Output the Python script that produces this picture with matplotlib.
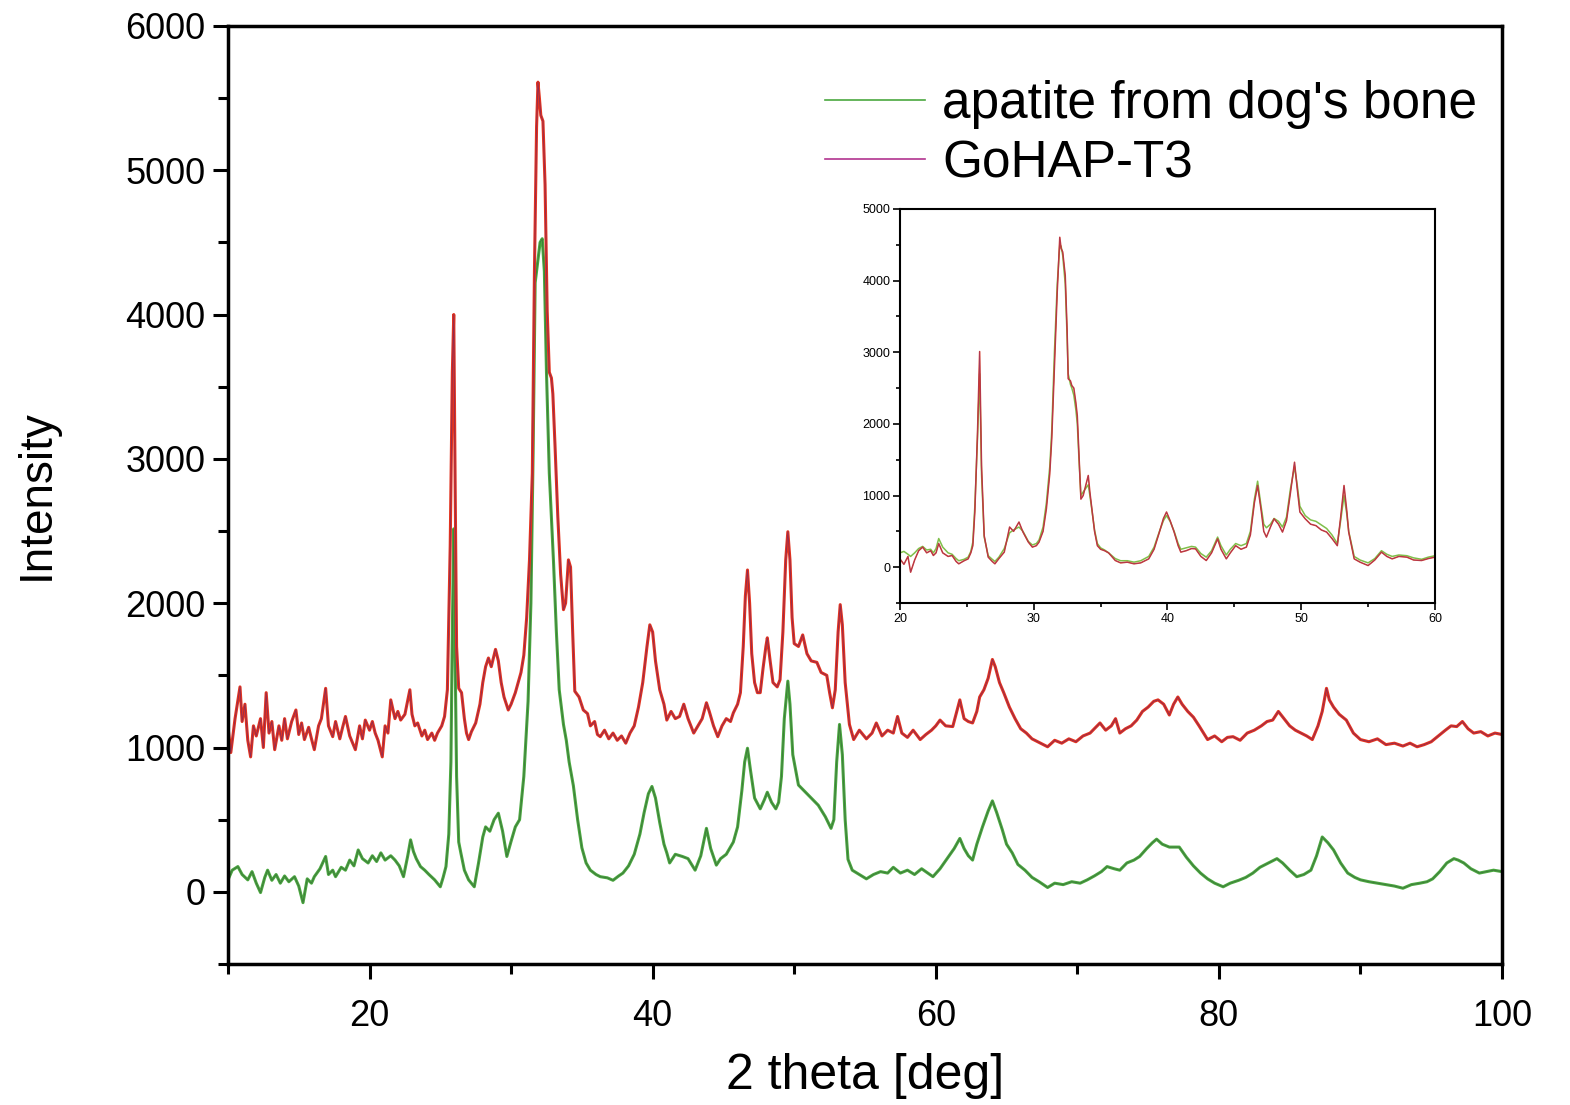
import matplotlib
matplotlib.use("Agg")
import matplotlib.pyplot as plt
from matplotlib.lines import Line2D
from matplotlib.ticker import MultipleLocator

plt.rcParams['font.family'] = ['Liberation Sans', 'DejaVu Sans']

# GoHAP-T3, main panel (2 theta, intensity)
gohap_x = [10.0, 10.2, 10.5, 10.85, 11.0, 11.2, 11.4, 11.6, 11.8, 12.0, 12.3, 12.5, 12.7, 12.9, 13.1, 13.3,
           13.6, 13.8, 14.0, 14.2, 14.5, 14.8, 15.0, 15.2, 15.4, 15.7, 15.9, 16.1, 16.4, 16.6, 16.9, 17.1,
           17.4, 17.6, 17.9, 18.1, 18.3, 18.6, 19.0, 19.3, 19.5, 19.7, 20.0, 20.2, 20.4, 20.6, 20.9, 21.1,
           21.3, 21.5, 21.8, 22.0, 22.2, 22.5, 22.85, 23.0, 23.2, 23.4, 23.7, 23.9, 24.1, 24.4, 24.6, 24.8,
           25.1, 25.3, 25.5, 25.7, 25.85, 25.95, 26.05, 26.15, 26.3, 26.5, 26.7, 26.85, 27.0, 27.2, 27.5, 27.8,
           28.0, 28.2, 28.4, 28.6, 28.9, 29.1, 29.3, 29.5, 29.8, 30.0, 30.3, 30.5, 30.7, 30.9, 31.1, 31.3,
           31.5, 31.65, 31.8, 31.9, 32.0, 32.1, 32.25, 32.4, 32.55, 32.7, 32.85, 32.95, 33.1, 33.3, 33.5, 33.7,
           33.85, 34.05, 34.2, 34.35, 34.5, 34.8, 35.1, 35.4, 35.6, 35.9, 36.1, 36.3, 36.6, 36.9, 37.2, 37.5,
           37.8, 38.1, 38.4, 38.7, 39.0, 39.3, 39.6, 39.8, 40.0, 40.2, 40.5, 40.8, 41.0, 41.3, 41.6, 41.9,
           42.2, 42.5, 42.9, 43.2, 43.5, 43.8, 44.0, 44.3, 44.6, 44.9, 45.2, 45.5, 45.7, 46.0, 46.2, 46.4,
           46.55, 46.7, 46.85, 47.0, 47.2, 47.4, 47.6, 47.8, 48.0, 48.1, 48.3, 48.5, 48.8, 49.0, 49.2, 49.4,
           49.55, 49.7, 49.85, 50.0, 50.3, 50.6, 50.9, 51.2, 51.6, 51.9, 52.3, 52.5, 52.7, 52.9, 53.1, 53.25,
           53.4, 53.6, 53.9, 54.2, 54.6, 55.1, 55.5, 55.8, 56.2, 56.6, 57.0, 57.3, 57.6, 58.0, 58.4, 58.9,
           59.3, 59.7, 60.0, 60.3, 60.7, 61.2, 61.7, 62.0, 62.3, 62.6, 62.9, 63.1, 63.4, 63.7, 64.0, 64.2,
           64.5, 64.8, 65.2, 65.6, 66.0, 66.4, 66.8, 67.4, 67.9, 68.4, 68.9, 69.4, 69.9, 70.4, 70.9, 71.3,
           71.6, 72.0, 72.4, 72.7, 73.0, 73.4, 73.8, 74.2, 74.6, 75.0, 75.4, 75.7, 76.1, 76.5, 76.8, 77.1,
           77.4, 77.8, 78.2, 78.6, 79.2, 79.7, 80.2, 80.6, 81.0, 81.5, 82.0, 82.5, 83.0, 83.4, 83.8, 84.2,
           84.6, 85.0, 85.4, 85.8, 86.2, 86.6, 87.0, 87.3, 87.6, 87.8, 88.1, 88.5, 89.0, 89.5, 90.0, 90.6,
           91.2, 91.8, 92.4, 93.0, 93.5, 94.0, 94.5, 95.0, 95.5, 96.0, 96.4, 96.8, 97.2, 97.6, 98.0, 98.5,
           99.0, 99.5, 100.0]
gohap_y = [1145, 965, 1200, 1420, 1180, 1300, 1050, 935, 1150, 1080, 1200, 1000, 1380, 1100, 1180, 985,
           1150, 1050, 1200, 1060, 1180, 1260, 1090, 1170, 1055, 1140, 1060, 985, 1150, 1200, 1410, 1150,
           1075, 1180, 1060, 1140, 1215, 1080, 985, 1150, 1060, 1190, 1120, 1180, 1100, 1050, 935, 1150,
           1100, 1330, 1200, 1250, 1190, 1230, 1400, 1230, 1150, 1170, 1080, 1120, 1055, 1100, 1050, 1100,
           1150, 1215, 1400, 2400, 3600, 4000, 2800, 1700, 1410, 1380, 1200, 1100, 1055, 1110, 1170, 1300,
           1450, 1560, 1620, 1560, 1680, 1600, 1450, 1350, 1260, 1300, 1380, 1450, 1520, 1640, 1900, 2300,
           2900, 4300, 5300, 5610, 5500, 5380, 5340, 4900, 4025, 3600, 3560, 3450, 3100, 2600, 2200, 1955,
           2000, 2300, 2250, 1800, 1390, 1350, 1260, 1235, 1150, 1180, 1090, 1075, 1120, 1060, 1100, 1050,
           1080, 1030, 1100, 1150, 1280, 1450, 1700, 1850, 1800, 1600, 1400, 1300, 1190, 1250, 1200, 1215,
           1300, 1200, 1100, 1150, 1200, 1310, 1250, 1150, 1075, 1150, 1200, 1180, 1240, 1300, 1380, 1700,
           2050, 2230, 2000, 1650, 1450, 1380, 1380, 1550, 1700, 1760, 1600, 1450, 1420, 1470, 1800, 2300,
           2495, 2300, 1900, 1720, 1700, 1780, 1650, 1600, 1590, 1520, 1500, 1380, 1275, 1400, 1800, 1990,
           1850, 1450, 1160, 1055, 1120, 1060, 1100, 1170, 1080, 1120, 1100, 1215, 1100, 1070, 1120, 1055,
           1090, 1120, 1150, 1190, 1150, 1145, 1330, 1200, 1180, 1170, 1250, 1350, 1400, 1480, 1610, 1560,
           1450, 1380, 1280, 1200, 1130, 1100, 1060, 1030, 1005, 1050, 1030, 1060, 1040, 1080, 1100, 1140,
           1170, 1120, 1150, 1200, 1100, 1130, 1150, 1190, 1250, 1280, 1320, 1330, 1300, 1225, 1300, 1350,
           1300, 1250, 1210, 1150, 1055, 1080, 1040, 1070, 1075, 1050, 1100, 1120, 1150, 1180, 1190, 1250,
           1200, 1150, 1120, 1100, 1080, 1055, 1150, 1250, 1410, 1330, 1280, 1230, 1190, 1100, 1055, 1040,
           1060, 1020, 1030, 1010, 1030, 1005, 1020, 1040, 1080, 1120, 1150, 1145, 1180, 1130, 1100, 1110,
           1080, 1100, 1090]

# apatite from dog's bone, main panel
bone_x = [10.0, 10.3, 10.7, 11.0, 11.4, 11.7, 12.0, 12.3, 12.6, 12.8, 13.1, 13.4, 13.7, 14.0, 14.3, 14.7,
          15.0, 15.3, 15.6, 15.9, 16.1, 16.5, 16.9, 17.1, 17.4, 17.6, 18.0, 18.3, 18.6, 18.9, 19.2, 19.5,
          19.9, 20.2, 20.5, 20.8, 21.1, 21.5, 21.8, 22.1, 22.4, 22.7, 22.9, 23.1, 23.3, 23.6, 23.9, 24.2,
          24.6, 25.0, 25.2, 25.4, 25.6, 25.75, 25.85, 25.95, 26.05, 26.15, 26.3, 26.45, 26.7, 27.0, 27.4, 27.7,
          28.0, 28.2, 28.5, 28.8, 29.1, 29.4, 29.7, 30.0, 30.3, 30.6, 30.9, 31.2, 31.4, 31.55, 31.7, 31.9,
          32.05, 32.2, 32.35, 32.5, 32.7, 33.0, 33.2, 33.4, 33.7, 33.9, 34.1, 34.4, 34.7, 35.0, 35.3, 35.6,
          36.0, 36.3, 36.8, 37.2, 37.6, 37.9, 38.3, 38.7, 39.1, 39.4, 39.7, 39.95, 40.2, 40.5, 40.8, 41.0,
          41.2, 41.6, 42.1, 42.5, 43.0, 43.4, 43.8, 44.1, 44.5, 44.8, 45.2, 45.7, 46.0, 46.3, 46.5, 46.7,
          46.9, 47.2, 47.6, 47.9, 48.1, 48.4, 48.7, 48.9, 49.1, 49.3, 49.55, 49.7, 49.9, 50.3, 50.7, 51.2,
          51.7, 52.2, 52.6, 52.8, 53.0, 53.2, 53.4, 53.6, 53.8, 54.1, 54.6, 55.1, 55.6, 56.1, 56.6, 57.0,
          57.5, 58.0, 58.5, 59.0, 59.8, 60.3, 60.8, 61.3, 61.7, 62.0, 62.3, 62.6, 62.9, 63.3, 63.7, 64.0,
          64.3, 64.7, 65.0, 65.4, 65.8, 66.3, 66.8, 67.3, 67.9, 68.4, 69.0, 69.6, 70.2, 70.7, 71.2, 71.7,
          72.1, 72.6, 73.0, 73.5, 74.0, 74.4, 74.9, 75.3, 75.6, 76.0, 76.5, 77.2, 77.7, 78.2, 78.7, 79.2,
          79.7, 80.3, 80.8, 81.4, 81.9, 82.4, 82.9, 83.5, 84.1, 84.5, 85.0, 85.5, 86.0, 86.5, 86.9, 87.3,
          87.7, 88.1, 88.6, 89.1, 89.6, 90.0, 90.6, 91.2, 91.8, 92.4, 93.0, 93.6, 94.2, 94.7, 95.1, 95.6,
          96.1, 96.6, 96.9, 97.3, 97.8, 98.4, 98.9, 99.4, 100.0]
bone_y = [83, 150, 175, 120, 83, 140, 60, -5, 100, 150, 80, 120, 60, 110, 70, 105,
          40, -75, 90, 60, 105, 160, 245, 120, 150, 105, 170, 150, 220, 180, 290, 230,
          200, 250, 210, 270, 220, 250, 220, 180, 105, 250, 360, 280, 230, 175, 150, 120,
          83, 35, 100, 175, 400, 900, 1800, 2515, 1600, 800, 345, 270, 150, 83, 35, 200,
          380, 450, 420, 500, 545, 420, 245, 350, 450, 500, 800, 1320, 2000, 3000, 4220, 4380,
          4500, 4525, 4300, 3600, 2900, 2280, 1800, 1400, 1160, 1050, 900, 735, 500, 305, 200, 150,
          120, 105, 97, 80, 110, 130, 180, 260, 400, 550, 680, 730, 650, 480, 330, 270,
          200, 260, 245, 230, 150, 250, 440, 300, 185, 230, 260, 345, 450, 700, 900, 995,
          850, 650, 575, 640, 690, 620, 575, 620, 800, 1200, 1460, 1300, 950, 740, 700, 650,
          600, 520, 440, 500, 900, 1160, 950, 500, 225, 150, 120, 90, 120, 140, 130, 170,
          130, 150, 120, 160, 105, 160, 230, 300, 370, 300, 250, 220, 330, 450, 560, 630,
          550, 430, 330, 270, 190, 150, 100, 70, 30, 60, 50, 70, 60, 83, 110, 140,
          175, 160, 150, 200, 220, 245, 300, 340, 365, 330, 310, 310, 240, 180, 130, 90,
          60, 35, 60, 80, 100, 130, 170, 200, 230, 200, 150, 105, 120, 150, 250, 380,
          340, 290, 200, 130, 100, 83, 70, 60, 50, 40, 25, 50, 60, 70, 90, 140,
          200, 230, 220, 200, 160, 130, 140, 150, 140]

# inset, 20-60 deg
inset_x = [20.0, 20.3, 20.6, 20.8, 21.1, 21.4, 21.7, 22.0, 22.3, 22.5, 22.7, 22.9, 23.2, 23.6, 23.9, 24.2,
           24.4, 24.8, 25.1, 25.3, 25.45, 25.6, 25.8, 25.96, 26.1, 26.3, 26.6, 26.9, 27.1, 27.4, 27.8, 28.2,
           28.5, 28.9, 29.2, 29.6, 29.9, 30.2, 30.4, 30.7, 30.95, 31.2, 31.35, 31.55, 31.76, 31.95, 32.05, 32.17,
           32.36, 32.5, 32.58, 32.75, 32.85, 33.0, 33.15, 33.26, 33.4, 33.53, 33.7, 33.89, 34.08, 34.2, 34.35, 34.55,
           34.76, 35.0, 35.3, 35.6, 36.1, 36.5, 37.0, 37.5, 38.0, 38.6, 39.0, 39.4, 39.7, 39.93, 40.2, 40.5,
           40.8, 41.0, 41.4, 41.8, 42.1, 42.5, 42.9, 43.3, 43.75, 44.0, 44.4, 44.7, 45.1, 45.5, 45.9, 46.2,
           46.5, 46.74, 47.0, 47.2, 47.4, 47.7, 47.97, 48.3, 48.6, 48.9, 49.2, 49.5, 49.7, 49.9, 50.3, 50.7,
           51.1, 51.5, 51.9, 52.3, 52.7, 52.95, 53.2, 53.4, 53.55, 53.96, 54.4, 55.0, 55.5, 56.0, 56.4, 56.8,
           57.3, 57.9, 58.4, 59.0, 59.5, 60.0]
inset_gohap = [116, 40, 150, -70, 100, 230, 280, 200, 230, 163, 200, 330, 200, 150, 163, 80,
               47, 90, 116, 200, 300, 770, 1880, 3010, 1420, 440, 140, 80, 47, 120, 210, 560,
               500, 630, 490, 350, 280, 300, 350, 500, 815, 1300, 1790, 2800, 3840, 4605, 4450, 4400,
               4070, 3300, 2630, 2600, 2535, 2500, 2300, 2115, 1500, 950, 1000, 1140, 1280, 1050, 815, 500,
               300, 250, 230, 200, 93, 60, 70, 47, 60, 116, 250, 490, 680, 770, 650, 490,
               300, 210, 230, 260, 256, 150, 93, 200, 395, 250, 116, 200, 300, 250, 280, 450,
               900, 1140, 800, 500, 420, 560, 675, 600, 490, 650, 1045, 1465, 1100, 770, 675, 600,
               580, 520, 490, 400, 300, 700, 1140, 800, 490, 116, 70, 23, 100, 210, 150, 116,
               150, 140, 100, 93, 120, 140]
inset_bone = [200, 220, 180, 150, 200, 260, 290, 240, 250, 200, 260, 400, 280, 200, 180, 120,
              90, 110, 140, 220, 350, 850, 1800, 2700, 1300, 420, 160, 110, 80, 140, 260, 480,
              520, 560, 500, 360, 310, 330, 380, 560, 900, 1400, 1900, 3000, 3950, 4500, 4480, 4350,
              3950, 3200, 2700, 2550, 2500, 2400, 2200, 2000, 1450, 1000, 1050, 1100, 1150, 1000, 800, 520,
              330, 270, 240, 200, 120, 90, 90, 70, 90, 150, 280, 500, 650, 720, 640, 500,
              330, 250, 270, 290, 280, 190, 140, 230, 420, 300, 170, 250, 330, 300, 330, 500,
              950, 1200, 850, 600, 550, 600, 680, 640, 560, 700, 1100, 1400, 1150, 850, 720, 660,
              640, 590, 540, 450, 330, 650, 1000, 750, 500, 150, 100, 60, 120, 230, 180, 150,
              170, 160, 130, 110, 140, 160]

red = '#e2331f'
purple = '#b2338f'
green = '#4aa83f'

fig = plt.figure(figsize=(15.7, 11.05), dpi=100)
ax = fig.add_axes([0.1452, 0.1276, 0.8115, 0.849])

ax.plot(bone_x, bone_y, color=green, lw=2.2)
ax.plot(bone_x, bone_y, color='#3c6a3c', lw=0.6, alpha=0.8)
ax.plot(gohap_x, gohap_y, color=red, lw=2.2)
ax.plot(gohap_x, gohap_y, color='#7a2a60', lw=0.6, alpha=0.8)

ax.set_xlim(10, 100)
ax.set_ylim(-500, 6000)
ax.xaxis.set_major_locator(MultipleLocator(20))
ax.xaxis.set_minor_locator(MultipleLocator(10))
ax.yaxis.set_major_locator(MultipleLocator(1000))
ax.yaxis.set_minor_locator(MultipleLocator(500))
ax.tick_params(which='major', direction='out', length=11, width=2.2, labelsize=26, pad=5)
ax.tick_params(axis='x', which='major', pad=14)
ax.tick_params(which='minor', direction='out', length=7, width=2.2)
ax.tick_params(top=False, right=False)
for s in ax.spines.values():
    s.set_linewidth(2.5)

ax.set_xlabel('2 theta [deg]', fontsize=36, labelpad=14)
ax.set_ylabel('Intensity', fontsize=33, labelpad=48)

handles = [Line2D([], [], color=green, lw=1.2), Line2D([], [], color=purple, lw=1.2)]
ax.legend(handles, ["apatite from dog's bone", 'GoHAP-T3'], loc='upper left',
          bbox_to_anchor=(825 / 1570, 1 - 80 / 1105), bbox_transform=fig.transFigure,
          frameon=False, fontsize=37, handlelength=1.95, handletextpad=0.33,
          labelspacing=0.2, borderpad=0, borderaxespad=0)

# inset
axin = fig.add_axes([0.5732, 0.4543, 0.3408, 0.3566])
axin.plot(inset_x, inset_bone, color='#7fbf4a', lw=1.1)
axin.plot(inset_x, inset_gohap, color='#d2382a', lw=1.1)
axin.plot(inset_x, inset_gohap, color='#8a3a7a', lw=0.4, alpha=0.7)
axin.set_xlim(20, 60)
axin.set_ylim(-500, 5000)
axin.xaxis.set_major_locator(MultipleLocator(10))
axin.xaxis.set_minor_locator(MultipleLocator(5))
axin.yaxis.set_major_locator(MultipleLocator(1000))
axin.yaxis.set_minor_locator(MultipleLocator(500))
axin.tick_params(which='major', direction='out', length=5, width=1.2, labelsize=9, pad=2)
axin.tick_params(which='minor', direction='out', length=3, width=1.2)
for s in axin.spines.values():
    s.set_linewidth(1.5)

fig.savefig('out.png', dpi=100)
